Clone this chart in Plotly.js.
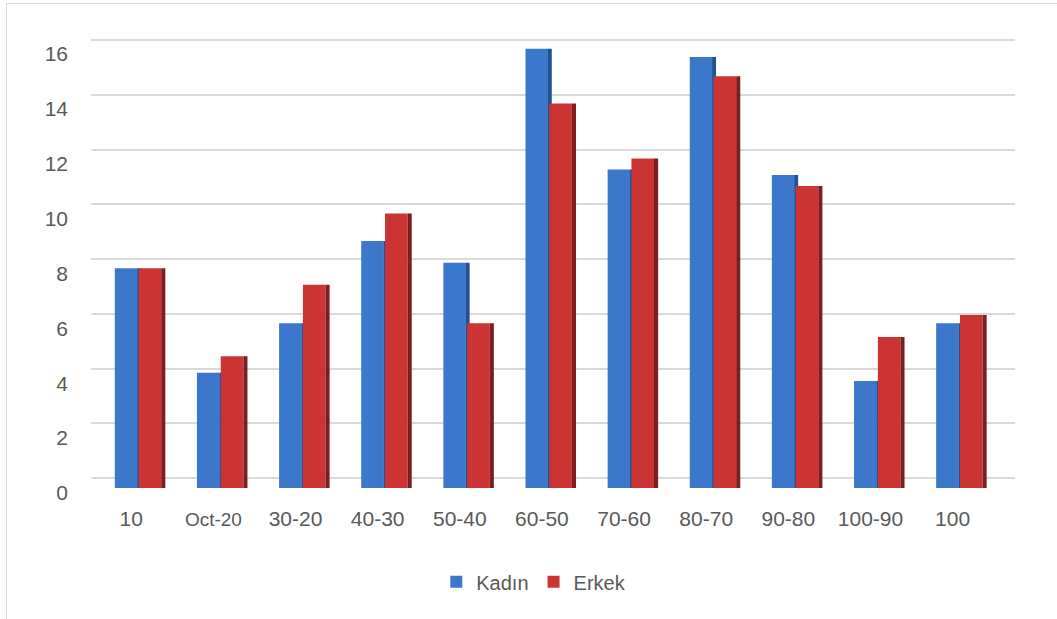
<!DOCTYPE html>
<html>
<head>
<meta charset="utf-8">
<script src="https://cdn.plot.ly/plotly-3.0.1.min.js"></script>
<style>
  html, body { margin: 0; padding: 0; background: #fff; }
  #wrap { position: relative; width: 1057px; height: 619px; overflow: hidden; }
  #frame { position: absolute; left: 6px; top: 3px; width: 1060px; height: 700px;
           border-left: 1px solid #d9d9d9; border-top: 1px solid #d9d9d9; pointer-events: none; }
  #chart { position: absolute; left: 0; top: 0; width: 1057px; height: 619px; }
</style>
</head>
<body>
<div id="wrap">
  <div id="chart"></div>
  <div id="frame"></div>
</div>
<script>
// ---- data ----
const categories = ["10", "Oct-20", "30-20", "40-30", "50-40", "60-50", "70-60", "80-70", "90-80", "100-90", "100"];
const kadin = [8.0, 4.2, 6.0, 9.0, 8.2, 16.0, 11.6, 15.7, 11.4, 3.9, 6.0];
const erkek = [8.0, 4.8, 7.4, 10.0, 6.0, 14.0, 12.0, 15.0, 11.0, 5.5, 6.3];
const yTicks = [0, 2, 4, 6, 8, 10, 12, 14, 16];
const seriesNames = ["Kadın", "Erkek"];

const idx = categories.map((c, i) => i);
const tickText = categories.map(c => c === "Oct-20" ? "<span style='font-size:19px'>" + c + "</span>" : c);
const blue = "#3b78cb", blueSide = "#24508f";
const red = "#cc3433", redSide = "#7e1d1d";

function faceTrace(name, vals, color, offset, showlegend) {
  return {
    type: "bar", name: name, x: idx, y: vals,
    offset: offset, width: 0.275,
    marker: { color: color, line: { width: 0 } },
    showlegend: showlegend, hoverinfo: "skip"
  };
}
function sideTrace(vals, color, offset) {
  return {
    type: "bar", x: idx, y: vals, offset: offset, width: 0.05,
    marker: { color: color, line: { width: 0 } },
    showlegend: false, hoverinfo: "skip"
  };
}

const traces = [
  sideTrace(kadin, blueSide, -0.04),
  faceTrace(seriesNames[0], kadin, blue, -0.31, true),
  faceTrace(seriesNames[1], erkek, red, -0.02, true),
  sideTrace(erkek, redSide, 0.255),
  { type: "scatter", x: [0], y: [0], yaxis: "y2", mode: "markers",
    marker: { opacity: 0 }, showlegend: false, hoverinfo: "skip" }
];

const layout = {
  width: 1057, height: 619,
  margin: { l: 91, r: 42, t: 24, b: 131 },
  paper_bgcolor: "#ffffff", plot_bgcolor: "rgba(0,0,0,0)",
  barmode: "overlay",
  font: { family: "Liberation Sans, Arial, sans-serif", color: "#595959" },
  xaxis: {
    range: [-0.6, 10.65],
    tickmode: "array", tickvals: idx, ticktext: tickText,
    showgrid: false, zeroline: false, showline: false, ticks: "",
    tickfont: { size: 21, color: "#595959" },
    ticklabelshift: -9, ticklabelstandoff: 16
  },
  yaxis: {
    range: [0, 16.9], tickmode: "array", tickvals: yTicks,
    showgrid: false, zeroline: false, showline: false, ticks: "",
    tickfont: { size: 21, color: "#595959" },
    ticklabelstandoff: 22, ticklabelshift: 5
  },
  yaxis2: {
    overlaying: "y", range: [-0.365, 16.585], tickmode: "array", tickvals: yTicks,
    showgrid: true, gridcolor: "#d9d9d9", gridwidth: 2, showticklabels: false,
    zeroline: false, ticks: "", layer: "below traces"
  },
  shapes: [
    { type: "line", xref: "paper", yref: "y", x0: -0.003, x1: 0.985, y0: -0.08, y1: -0.08,
      line: { color: "#d9d9d9", width: 2 }, layer: "below" }
  ],
  legend: {
    orientation: "h", x: 0.505, xanchor: "center", xref: "container",
    y: 0.06, yanchor: "middle", yref: "container",
    font: { size: 20, color: "#595959" }, itemwidth: 30,
    traceorder: "normal"
  }
};

Plotly.newPlot("chart", traces, layout, { displayModeBar: false, staticPlot: true });
</script>
</body>
</html>
